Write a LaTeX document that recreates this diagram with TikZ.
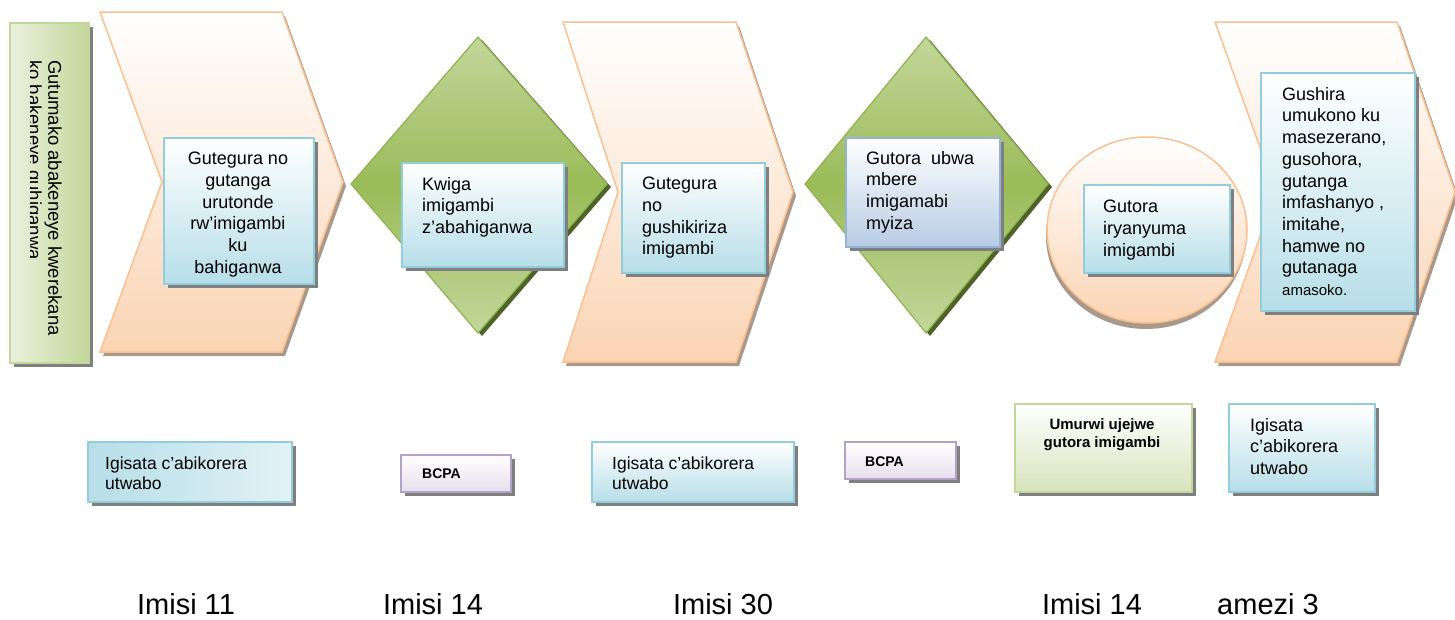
\documentclass[tikz,border=0pt]{standalone}
\usepackage{fontspec}
\setmainfont{Liberation Sans}
\usepackage{tikz}
\usetikzlibrary{shadows}
\definecolor{peachline}{HTML}{FAC090}
\definecolor{peachfill}{HTML}{FBD4B4}
\definecolor{peachshade}{HTML}{A8998C}
\definecolor{greenline}{HTML}{8EB44F}
\definecolor{greenlight}{HTML}{C3D69B}
\definecolor{greenmid}{HTML}{9BBB59}
\definecolor{greenpale}{HTML}{EBF1DE}
\definecolor{greenshade}{HTML}{4F6228}
\definecolor{blueline}{HTML}{92CDDC}
\definecolor{bluefill}{HTML}{B7DEE8}
\definecolor{steelline}{HTML}{95B3D7}
\definecolor{steelfill}{HTML}{B8CCE4}
\definecolor{purpleline}{HTML}{B3A2C7}
\definecolor{purplefill}{HTML}{E5E0EC}
\definecolor{oliveline}{HTML}{C3D69B}
\definecolor{olivefill}{HTML}{D7E4BD}
\definecolor{boxshade}{HTML}{7F7F7F}
\newcommand{\boxfont}{\fontsize{18}{21.7}\selectfont}
\newcommand{\sidefont}{\fontsize{18.5}{20}\selectfont}
\newcommand{\lowfont}{\fontsize{17.5}{19.5}\selectfont}
\newcommand{\tagfont}{\fontsize{14}{17}\selectfont\bfseries}
\newcommand{\daysfont}{\fontsize{29}{34}\selectfont}
\tikzstyle{chevron}=[draw=peachline, line width=1.5pt, top color=white, bottom color=peachfill, drop shadow={shadow xshift=3pt, shadow yshift=-4pt, fill=peachshade, opacity=1}]
\tikzstyle{diamondbg}=[draw=greenline, line width=1.2pt, top color=greenlight, bottom color=greenlight, middle color=greenmid, drop shadow={shadow xshift=4pt, shadow yshift=-3pt, fill=greenshade, opacity=1}]
\tikzstyle{ovalbg}=[draw=peachline, line width=1.5pt, top color=white, bottom color=peachfill, drop shadow={shadow xshift=-1pt, shadow yshift=-6pt, fill=peachshade, opacity=1}]
\tikzstyle{card}=[rectangle, anchor=north west, inner sep=0pt, line width=1.5pt, drop shadow={shadow xshift=4pt, shadow yshift=-4pt, fill=boxshade, opacity=1}]
\tikzstyle{bluecard}=[card, draw=blueline, top color=white, bottom color=bluefill]
\tikzstyle{steelcard}=[card, draw=steelline, top color=white, bottom color=steelfill]
\tikzstyle{purplecard}=[card, draw=purpleline, top color=white, bottom color=purplefill]
\tikzstyle{olivecard}=[card, draw=oliveline, top color=white, bottom color=olivefill]
\tikzstyle{txt}=[anchor=north west, inner sep=0pt, align=left, font=\boxfont]
\tikzstyle{days}=[anchor=base, inner sep=0pt, font=\daysfont]

\begin{document}
\begin{tikzpicture}[x=1pt, y=-1pt]
	\useasboundingbox (0,0) rectangle (1455,619);
	\begin{scope}
		\node (start) at (9,22) [card, draw=oliveline, left color=greenpale, right color=greenlight, minimum width=79pt, minimum height=340pt] {};
		\begin{scope}
			\clip (30,22) rectangle (88,362);
			\node (starttxt) at (62,60) [txt, rotate=-90, font=\sidefont] {Gutumako abakeneye kwerekana\\ko bakeneye guhiganwa};
		\end{scope}
	\end{scope}
	\begin{scope}
		\path[chevron] (100,12) -- (282,12) -- (343,182) -- (282,352) -- (100,352) -- (162,182) -- cycle;
		\node (s1) at (163,137) [bluecard, minimum width=150pt, minimum height=146pt] {};
		\node (s1txt) at (238,152) [txt, anchor=north, align=center] {Gutegura no\\gutanga\\urutonde\\rw’imigambi\\ku\\bahiganwa};
		\path[diamondbg] (478,37) -- (607,184) -- (478,333) -- (351,184) -- cycle;
		\node (s2) at (401,162) [bluecard, minimum width=162pt, minimum height=104pt] {};
		\node (s2txt) at (422,177) [txt] {Kwiga\\imigambi\\z’abahiganwa};
		\path[chevron] (563,22) -- (736,22) -- (793,192) -- (736,362) -- (563,362) -- (618,192) -- cycle;
		\node (s3) at (621,162) [bluecard, minimum width=143pt, minimum height=110pt] {};
		\node (s3txt) at (642,177) [txt] {Gutegura\\no\\gushikiriza\\imigambi};
		\path[diamondbg] (926,37) -- (1048,184) -- (926,333) -- (805,184) -- cycle;
		\node (s4) at (845,137) [steelcard, minimum width=154pt, minimum height=109pt] {};
		\node (s4txt) at (866,151) [txt] {Gutora\ \ ubwa\\mbere\\imigamabi\\myiza};
		\path[ovalbg] (1147,230) ellipse [x radius=100pt, y radius=93pt];
		\node (s5) at (1083,184) [bluecard, minimum width=146pt, minimum height=88pt] {};
		\node (s5txt) at (1103,200) [txt] {Gutora\\iryanyuma\\imigambi};
		\path[chevron] (1215,22) -- (1397,22) -- (1455,192) -- (1397,362) -- (1215,362) -- (1276,192) -- cycle;
		\node (s6) at (1260,72) [bluecard, minimum width=154pt, minimum height=238pt] {};
		\node (s6txt) at (1282,87) [txt] {Gushira\\umukono ku\\masezerano,\\gusohora,\\gutanga\\imfashanyo ,\\imitahe,\\hamwe no\\gutanaga\\{\fontsize{15}{18}\selectfont amasoko.}};
	\end{scope}
	\begin{scope}
		\node (w1) at (87,441) [card, draw=blueline, left color=bluefill, right color=bluefill!40, minimum width=204pt, minimum height=60pt] {};
		\node (w1txt) at (105,457) [txt, font=\lowfont] {Igisata c’abikorera\\utwabo};
		\node (w2) at (400,454) [purplecard, minimum width=110pt, minimum height=37pt] {};
		\node (w2txt) at (422,474) [txt, anchor=west, font=\tagfont] {BCPA};
		\node (w3) at (591,441) [bluecard, minimum width=202pt, minimum height=60pt] {};
		\node (w3txt) at (612,457) [txt, font=\lowfont] {Igisata c’abikorera\\utwabo};
		\node (w4) at (844,441) [purplecard, minimum width=111pt, minimum height=37pt] {};
		\node (w4txt) at (865,462) [txt, anchor=west, font=\tagfont] {BCPA};
		\node (w5) at (1014,403) [olivecard, minimum width=177pt, minimum height=88pt] {};
		\node (w5txt) at (1102,418) [txt, anchor=north, align=center, font=\fontsize{15}{18}\selectfont\bfseries] {Umurwi ujejwe\\gutora imigambi};
		\node (w6) at (1228,403) [bluecard, minimum width=146pt, minimum height=88pt] {};
		\node (w6txt) at (1250,418) [txt] {Igisata\\c’abikorera\\utwabo};
	\end{scope}
	\begin{scope}
		\node (d1) at (186,614) [days] {Imisi 11};
		\node (d2) at (433,614) [days] {Imisi 14};
		\node (d3) at (723,614) [days] {Imisi 30};
		\node (d4) at (1092,614) [days] {Imisi 14};
		\node (d5) at (1268,614) [days] {amezi 3};
	\end{scope}
\end{tikzpicture}
\end{document}
